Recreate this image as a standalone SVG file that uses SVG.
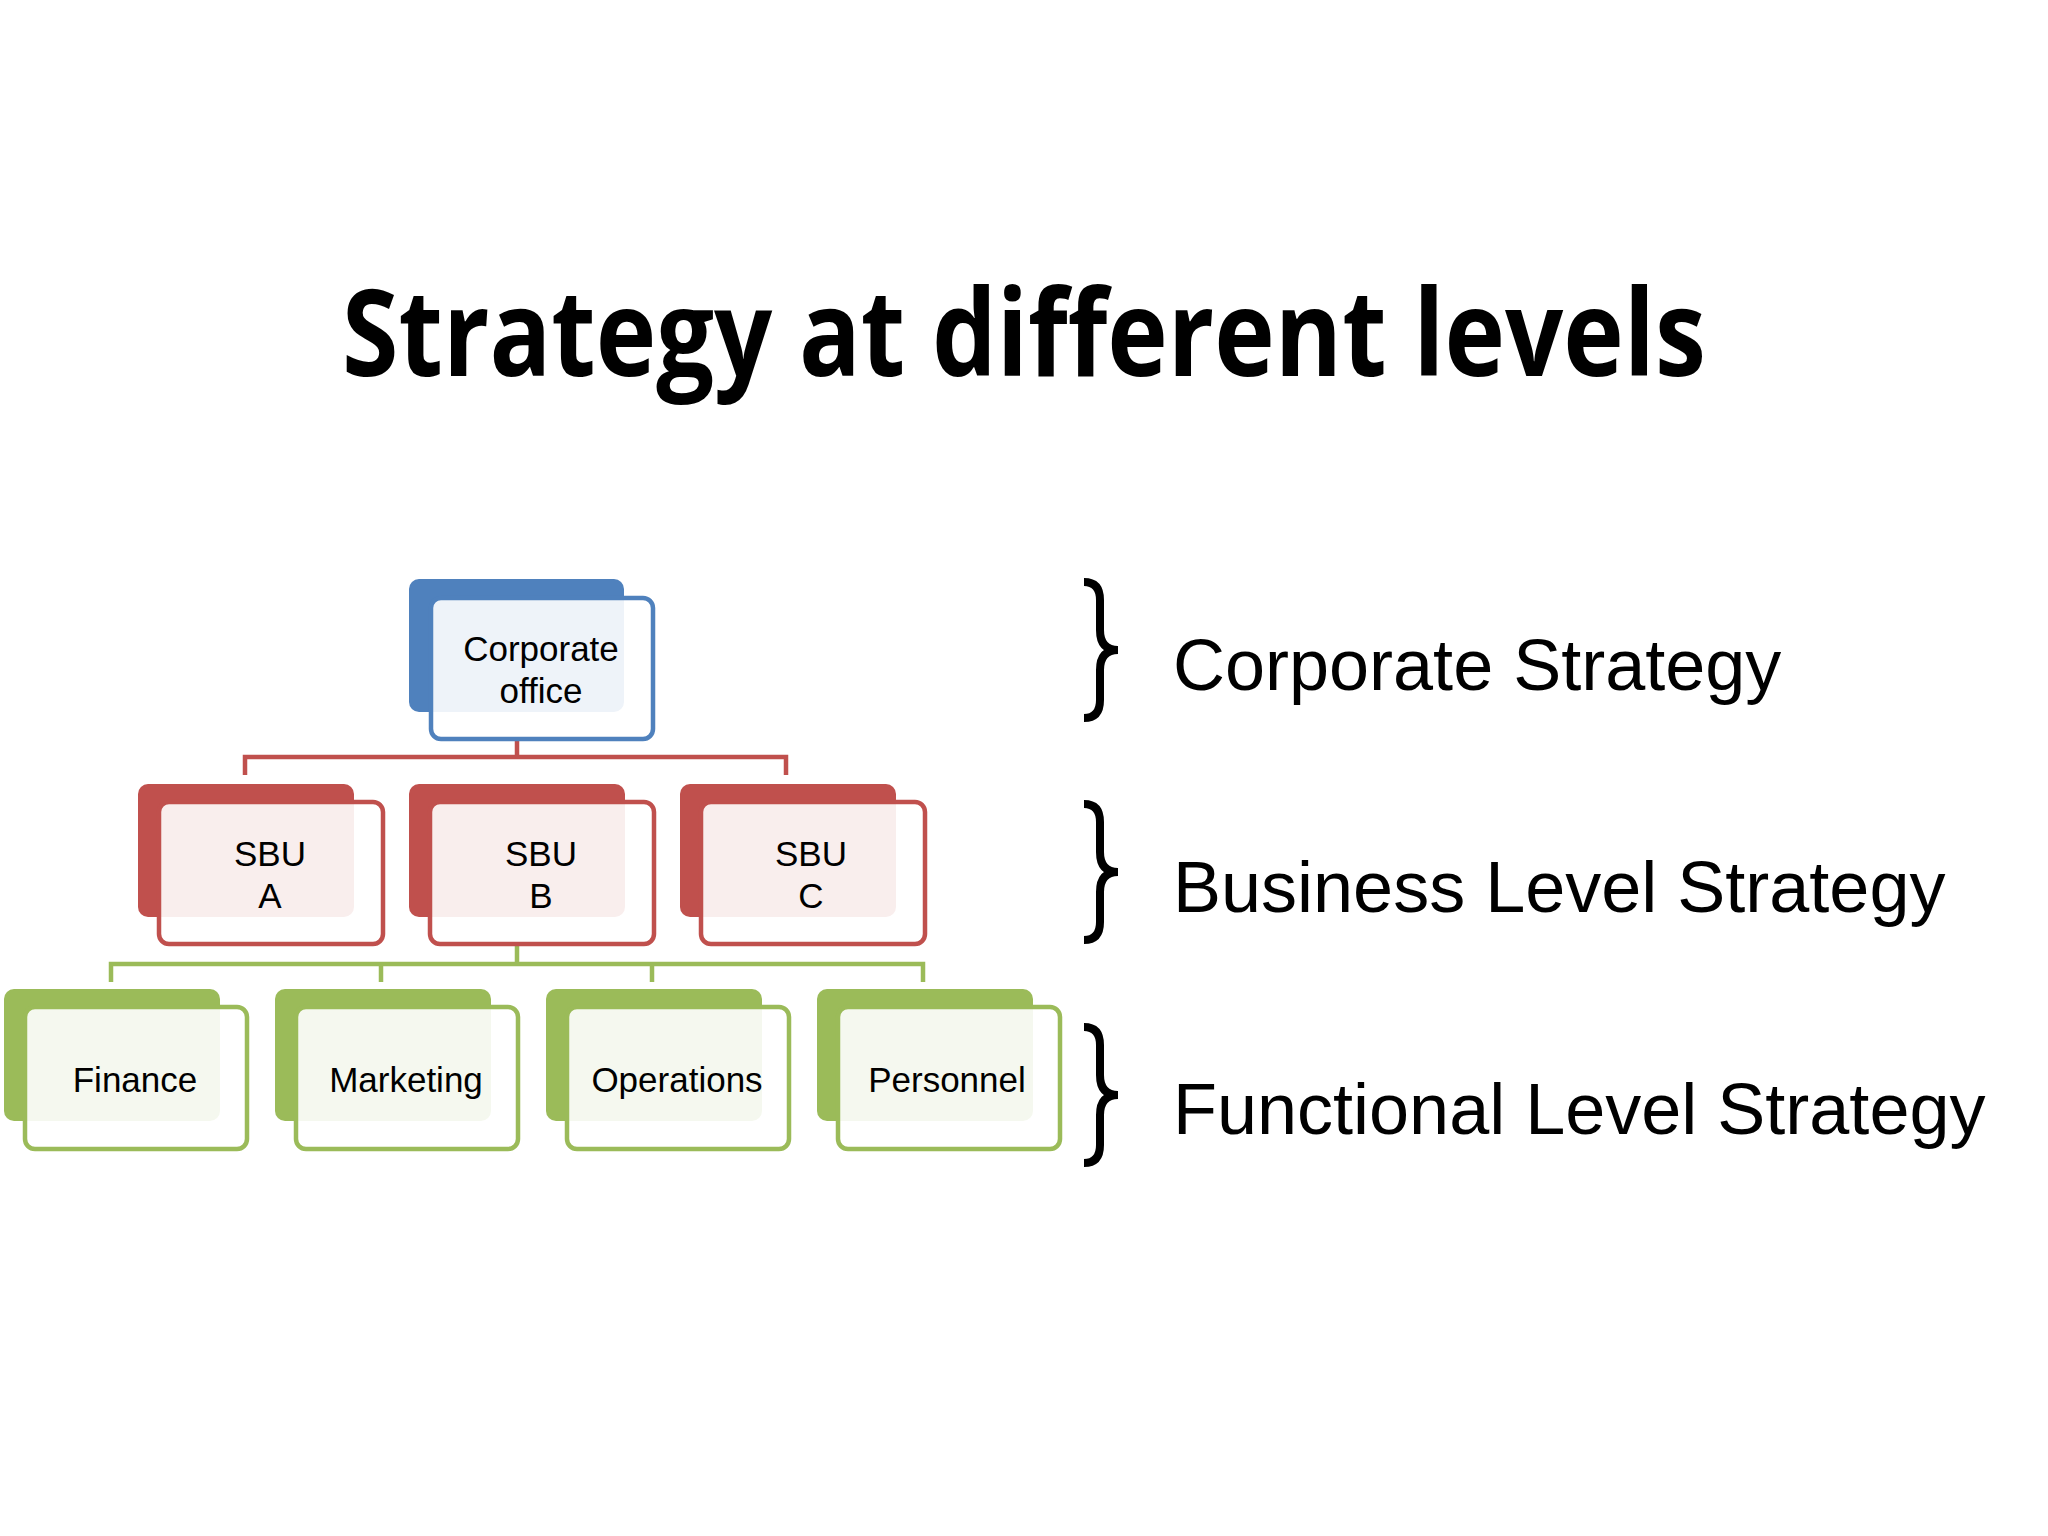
<svg xmlns="http://www.w3.org/2000/svg" width="2048" height="1536" viewBox="0 0 2048 1536">
<style>
.t{font-family:"Liberation Sans",Arial,sans-serif;font-size:35px;fill:#000;text-anchor:middle}
.r{font-family:"Liberation Sans",Arial,sans-serif;font-size:72px;fill:#000}
.f{fill:#fff;fill-opacity:0.9;stroke-width:4.5}
.br{fill:none;stroke:#000;stroke-width:8}
</style>
<rect width="2048" height="1536" fill="#fff"/>
<text x="1024" y="376" font-family="'Open Sans','DejaVu Sans',sans-serif" font-weight="bold" font-size="120" text-anchor="middle" textLength="1364" lengthAdjust="spacingAndGlyphs">Strategy at different levels</text>
<g id="connectors" fill="none" stroke-width="4.5">
<path d="M517 739V757M245 775V757H786V775" stroke="#c0504d"/>
<path d="M517 944V964M111 982V964H923V982M381 964V982M652 964V982" stroke="#9bbb59"/>
</g>
<g id="corporate"><rect x="409" y="579" width="215" height="133" rx="10" fill="#4f81bd"/><rect class="f" x="431" y="598" width="222" height="141" rx="10" stroke="#4f81bd"/><text class="t" x="541" y="661">Corporate</text><text class="t" x="541" y="703">office</text></g>
<g id="sbuA"><rect x="138" y="784" width="216" height="133" rx="10" fill="#c0504d"/><rect class="f" x="159" y="802" width="224" height="142" rx="10" stroke="#c0504d"/><text class="t" x="270" y="866">SBU</text><text class="t" x="270" y="908">A</text></g>
<g id="sbuB"><rect x="409" y="784" width="216" height="133" rx="10" fill="#c0504d"/><rect class="f" x="430" y="802" width="224" height="142" rx="10" stroke="#c0504d"/><text class="t" x="541" y="866">SBU</text><text class="t" x="541" y="908">B</text></g>
<g id="sbuC"><rect x="680" y="784" width="216" height="133" rx="10" fill="#c0504d"/><rect class="f" x="701" y="802" width="224" height="142" rx="10" stroke="#c0504d"/><text class="t" x="811" y="866">SBU</text><text class="t" x="811" y="908">C</text></g>
<g id="finance"><rect x="4" y="989" width="216" height="132" rx="10" fill="#9bbb59"/><rect class="f" x="25" y="1007" width="222" height="142" rx="10" stroke="#9bbb59"/><text class="t" x="135" y="1092">Finance</text></g>
<g id="marketing"><rect x="275" y="989" width="216" height="132" rx="10" fill="#9bbb59"/><rect class="f" x="296" y="1007" width="222" height="142" rx="10" stroke="#9bbb59"/><text class="t" x="406" y="1092">Marketing</text></g>
<g id="operations"><rect x="546" y="989" width="216" height="132" rx="10" fill="#9bbb59"/><rect class="f" x="567" y="1007" width="222" height="142" rx="10" stroke="#9bbb59"/><text class="t" x="677" y="1092">Operations</text></g>
<g id="personnel"><rect x="817" y="989" width="216" height="132" rx="10" fill="#9bbb59"/><rect class="f" x="838" y="1007" width="222" height="142" rx="10" stroke="#9bbb59"/><text class="t" x="947" y="1092">Personnel</text></g>
<g id="braces">
<path class="br" d="M1084 582Q1100 582 1100 600V630Q1100 650 1118 650Q1100 650 1100 670V700Q1100 718 1084 718"/>
<path class="br" d="M1084 804Q1100 804 1100 822V852Q1100 872 1118 872Q1100 872 1100 892V922Q1100 940 1084 940"/>
<path class="br" d="M1084 1027Q1100 1027 1100 1045V1075Q1100 1095 1118 1095Q1100 1095 1100 1115V1145Q1100 1163 1084 1163"/>
</g>
<text class="r" x="1173" y="690">Corporate Strategy</text>
<text class="r" x="1173" y="912">Business Level Strategy</text>
<text class="r" x="1173" y="1134">Functional Level Strategy</text>
</svg>
